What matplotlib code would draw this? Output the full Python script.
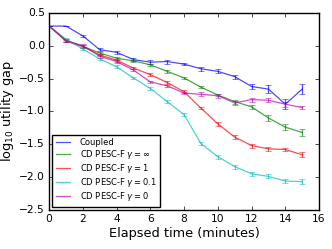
import numpy as np
import matplotlib
matplotlib.use('Agg')
import matplotlib.pyplot as plt

plt.style.use('classic')
plt.rcParams['mathtext.fontset'] = 'dejavusans'

minutes = np.arange(16)

coupled = [0.3, 0.3, 0.15, -0.06, -0.1, -0.21, -0.25, -0.24, -0.28, -0.35, -0.39, -0.47, -0.62, -0.66, -0.89, -0.66]
coupled_err = [0.0, 0.0, 0.02, 0.02, 0.02, 0.02, 0.03, 0.03, 0.02, 0.03, 0.03, 0.03, 0.04, 0.06, 0.08, 0.075]

gamma_inf = [0.3, 0.07, -0.01, -0.11, -0.19, -0.23, -0.29, -0.39, -0.49, -0.63, -0.75, -0.85, -0.93, -1.10, -1.24, -1.32]
gamma_inf_err = [0.0, 0.02, 0.02, 0.02, 0.02, 0.02, 0.02, 0.02, 0.02, 0.02, 0.02, 0.03, 0.03, 0.04, 0.05, 0.05]

gamma_1 = [0.3, 0.08, -0.01, -0.14, -0.22, -0.34, -0.44, -0.56, -0.70, -0.95, -1.19, -1.39, -1.52, -1.57, -1.58, -1.66]
gamma_1_err = [0.0, 0.02, 0.02, 0.02, 0.02, 0.02, 0.02, 0.02, 0.02, 0.02, 0.03, 0.03, 0.03, 0.03, 0.03, 0.04]

gamma_01 = [0.3, 0.1, -0.05, -0.2, -0.32, -0.49, -0.65, -0.85, -1.05, -1.49, -1.69, -1.84, -1.95, -1.99, -2.06, -2.07]
gamma_01_err = [0.0, 0.02, 0.02, 0.02, 0.02, 0.02, 0.02, 0.02, 0.02, 0.02, 0.03, 0.03, 0.03, 0.03, 0.03, 0.04]

gamma_0 = [0.3, 0.08, 0.0, -0.16, -0.24, -0.37, -0.55, -0.61, -0.72, -0.74, -0.76, -0.87, -0.82, -0.83, -0.89, -0.94]
gamma_0_err = [0.0, 0.02, 0.02, 0.02, 0.02, 0.02, 0.02, 0.02, 0.02, 0.03, 0.03, 0.03, 0.03, 0.03, 0.04, 0.03]

series = [
    ('Coupled', coupled, coupled_err, 'b'),
    (r'CD PESC-F $\gamma = \infty$', gamma_inf, gamma_inf_err, 'g'),
    (r'CD PESC-F $\gamma = 1$', gamma_1, gamma_1_err, 'r'),
    (r'CD PESC-F $\gamma = 0.1$', gamma_01, gamma_01_err, 'c'),
    (r'CD PESC-F $\gamma = 0$', gamma_0, gamma_0_err, 'm'),
]

fig = plt.figure(figsize=(3.32, 2.49), dpi=100)
fig.patch.set_facecolor('white')
ax = fig.add_axes([0.148, 0.157, 0.813, 0.791])

for label, vals, err, col in series:
    ax.errorbar(minutes, vals, yerr=err, color=col, alpha=0.7, lw=0.9,
                capsize=2, elinewidth=0.9, label=label)

ax.set_xlim(0, 16)
ax.set_ylim(-2.5, 0.5)
ax.set_xticks(np.arange(0, 17, 2))
ax.set_yticks(np.arange(-2.5, 0.51, 0.5))
ax.tick_params(labelsize=7.7, length=3, pad=3)
ax.set_xlabel('Elapsed time (minutes)', fontsize=9.3, labelpad=2)
ax.set_ylabel(r'log$_{10}$ utility gap', fontsize=9.3, labelpad=2)

handles, labels = ax.get_legend_handles_labels()
handles = [h[0] for h in handles]
ax.legend(handles, labels, loc='lower left', fontsize=6, handlelength=1.7,
          handletextpad=1.2, numpoints=1, frameon=True, borderpad=0.4,
          labelspacing=0.12, borderaxespad=0.4)

fig.savefig('out.png', dpi=100, facecolor='white')
